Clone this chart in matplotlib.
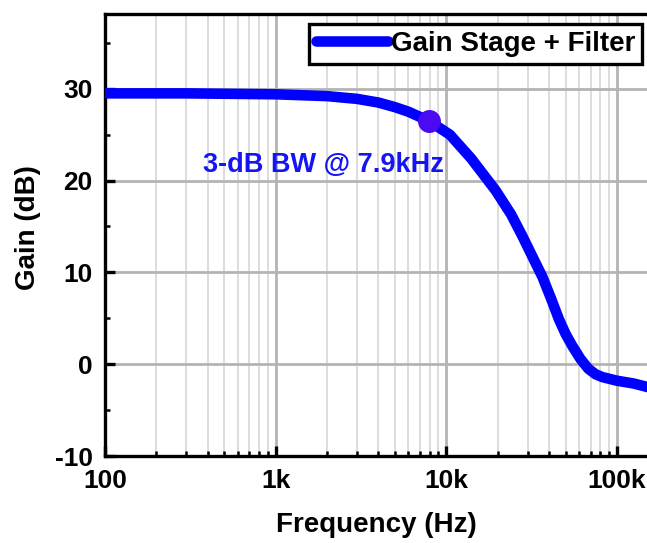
import matplotlib
matplotlib.use('Agg')
import matplotlib.pyplot as plt
from matplotlib.ticker import FixedLocator, LogLocator, NullFormatter, FixedFormatter

plt.rcParams['font.family'] = ['Liberation Sans', 'DejaVu Sans']
plt.rcParams['font.weight'] = 'bold'
plt.rcParams['axes.unicode_minus'] = False

# frequency response
freq_hz = [100, 300, 1000, 2000, 3000, 4000, 5000, 6000, 7900, 10500, 14000,
           19500, 24000, 28000, 32000, 36600, 41000, 45700, 50000, 54700,
           61000, 68000, 75000, 82000, 100000, 125000, 152000]
gain_db = [29.5, 29.5, 29.4, 29.2, 28.9, 28.5, 28.0, 27.5, 26.5, 25.0, 22.4,
           18.9, 16.3, 13.9, 11.7, 9.5, 7.2, 4.9, 3.3, 2.0,
           0.6, -0.5, -1.1, -1.4, -1.8, -2.1, -2.5]
bw_freq = 7900
bw_gain = 26.5
series_name = 'Gain Stage + Filter'
note = '3-dB BW @ 7.9kHz'
x_ticks = [100, 1000, 10000, 100000]
x_labels = ['100', '1k', '10k', '100k']
y_ticks = [-10, 0, 10, 20, 30]

w, h, dpi = 647, 543, 100
fig = plt.figure(figsize=(w/dpi, h/dpi), dpi=dpi)
ax = fig.add_axes([105/w, 1 - 456/h, 1 - 105/w, (456 - 13.5)/h])

ax.set_xscale('log')
ax.set_xlim(100, 150000)
ax.set_ylim(-10, 38.2)

# grid
ax.xaxis.set_major_locator(FixedLocator(x_ticks))
ax.xaxis.set_major_formatter(FixedFormatter(x_labels))
ax.xaxis.set_minor_locator(LogLocator(base=10, subs=range(2, 10)))
ax.xaxis.set_minor_formatter(NullFormatter())
ax.yaxis.set_major_locator(FixedLocator(y_ticks))
ax.yaxis.set_minor_locator(FixedLocator([-5, 5, 15, 25, 35]))
ax.grid(True, which='major', axis='both', color='#b4b4b4', lw=2.0, zorder=0)
ax.grid(True, which='minor', axis='x', color='#dddddd', lw=1.4, zorder=0)

ax.plot(freq_hz, gain_db, color='#0000ff', lw=7.6, solid_capstyle='round',
        solid_joinstyle='round', label=series_name, zorder=3)
ax.plot([bw_freq], [bw_gain], 'o', color='#4a0af2', ms=15.5, zorder=4)
ax.text(1900, 21.7, note, color='#1414f5', fontsize=19.5, fontweight='bold',
        ha='center', va='center', zorder=5)

for side in ['left', 'bottom', 'top']:
    ax.spines[side].set_linewidth(2.4)
ax.spines['right'].set_visible(False)

ax.tick_params(axis='both', which='major', direction='in', length=7, width=2.4,
               labelsize=19, pad=9)
ax.tick_params(axis='both', which='minor', direction='in', length=3.5, width=1.8)
for lbl in ax.get_xticklabels() + ax.get_yticklabels():
    lbl.set_fontweight('bold')

ax.set_xlabel('Frequency (Hz)', fontsize=20, fontweight='bold', labelpad=14)
ax.set_ylabel('Gain (dB)', fontsize=20, fontweight='bold', va='center')
ax.yaxis.set_label_coords((28 - 105)/542, (456 - 228)/442.5)

leg = ax.legend(loc='upper right', bbox_to_anchor=(642/w, 1 - 24/h),
                bbox_transform=fig.transFigure, borderaxespad=0,
                fancybox=False, framealpha=1, edgecolor='black',
                prop={'size': 20, 'weight': 'bold'}, handlelength=2.6,
                handletextpad=0.1, borderpad=0.25)
leg.get_frame().set_linewidth(2.4)

fig.savefig('out.png', dpi=dpi)
